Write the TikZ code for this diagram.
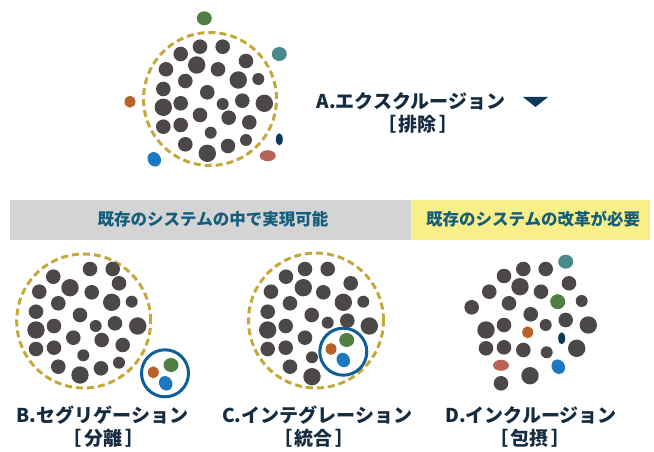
\documentclass[tikz,border=0pt]{standalone}
\usepackage{fontspec}
\newfontfamily\jp{Noto Sans CJK JP}
\definecolor{dotgray}{HTML}{4D4848}
\definecolor{gold}{HTML}{C4A83C}
\definecolor{ringblue}{HTML}{0E5F98}
\definecolor{cgreen}{HTML}{4F8042}
\definecolor{cteal}{HTML}{4A8A8A}
\definecolor{corange}{HTML}{B8622A}
\definecolor{cblue}{HTML}{1B78C2}
\definecolor{cnavy}{HTML}{0D3A5A}
\definecolor{csalmon}{HTML}{B86458}
\definecolor{bandgray}{HTML}{D4D4D4}
\definecolor{bandyellow}{HTML}{F9EF88}
\definecolor{bandtext}{HTML}{145E7C}
\definecolor{labeltext}{HTML}{152B40}
\newcommand{\brk}[1]{［\hspace{3pt}#1\hspace{3pt}］}
\begin{document}
\begin{tikzpicture}[x=1pt,y=-1pt,
  dashring/.style={draw=gold,line width=3pt,dash pattern=on 7pt off 4pt},
  ring/.style={draw=ringblue,line width=3pt},
  lbl/.style={font=\jp\bfseries\fontsize{19}{21}\selectfont,text=labeltext,inner sep=0pt},
  bandlbl/.style={font=\jp\bfseries\fontsize{16.5}{18}\selectfont,text=bandtext,inner sep=0pt}]
\useasboundingbox (0,0) rectangle (654,452);

% ---------- A: exclusion ----------
\draw[dashring] (210,99) circle (66.5pt);
\foreach \x/\y/\r in {200/46.7/7.3, 222.7/46.7/7.3, 180.7/54/7.3, 196.7/65/8.7, 246/61/7.3,
  166/69.3/7.3, 218/69.3/7.3, 185.3/81/7.3, 238.3/80/8.7, 258.3/79/6,
  163.3/89/7.3, 207.3/92.3/7.3, 242.3/100.7/7.3, 264.3/103.3/8.7, 222.7/104/6,
  180.7/103.3/7.3, 163.3/107.3/8.7, 200/115/7.3, 228.7/117.7/7.3, 249.3/122.3/7.3,
  163.3/126.7/7.3, 180.7/125/7.3, 210.7/132.7/6, 246/140/6, 185.3/144.3/7.3,
  207.3/153.3/8.7, 228/146/7.3}
  \fill[dotgray] (\x,\y) circle (\r pt);
\fill[cgreen] (204.3,18.3) ellipse [x radius=7.5pt,y radius=7pt];
\fill[cteal] (279.3,54) ellipse [x radius=7.5pt,y radius=7pt];
\fill[corange] (130,101.7) ellipse [x radius=5.5pt,y radius=6pt];
\fill[cblue,rotate around={30:(154.3,159.3)}] (154.3,159.3) ellipse [x radius=6.5pt,y radius=7.5pt];
\fill[cnavy] (279.3,139.3) ellipse [x radius=3.5pt,y radius=6pt];
\fill[csalmon] (267.7,155.7) ellipse [x radius=8pt,y radius=5.5pt];

\node[lbl] (la1) at (411,101) {A.エクスクルージョン};
\node[lbl] (la2) at (418,124) {\brk{排除}};
\fill[cnavy] (523,97) -- (548,97) -- (535.5,107) -- cycle;

% ---------- band ----------
\fill[bandgray] (10,200) rectangle (411,240);
\fill[bandyellow] (411,200) rectangle (650,240);
\node[bandlbl] (band1) at (213,219) {既存のシステムの中で実現可能};
\node[bandlbl] (band2) at (533,219) {既存のシステムの改革が必要};

% ---------- B: segregation ----------
\draw[dashring] (83.7,321) circle (67pt);
\foreach \x/\y/\r in {90/269/7.3, 112.7/269/7.3, 53.3/276.7/7.3, 119/283.3/7.3, 70/287.7/8.7,
  39.3/291.7/7.3, 91.7/292.3/7.3, 58.3/303.3/7.3, 111.7/302.3/8.7, 131.7/301.7/6,
  36/311.7/7.3, 80/315/7.3, 54/326/7.3, 95.7/326/6, 115/323.3/7.3,
  137.7/326/8.7, 36/330/8.7, 73.3/337.7/7.3, 101.7/340/7.3, 122.7/345/7.3,
  36/349/7.3, 54/347.7/7.3, 83.3/355.3/6, 119/362.7/6, 58.3/366.7/7.3,
  101/368.3/7.3, 80/375/8.7}
  \fill[dotgray] (\x,\y) circle (\r pt);
\fill[white] (165,373.3) circle (23.5pt);
\draw[ring] (165,373.3) circle (23.5pt);
\fill[corange] (153.3,372.3) ellipse [x radius=5.5pt,y radius=6pt];
\fill[cgreen] (171,365) ellipse [x radius=7.5pt,y radius=7pt];
\fill[cblue,rotate around={30:(165.7,383.3)}] (165.7,383.3) ellipse [x radius=6.5pt,y radius=7.5pt];
\node[lbl] (lb1) at (102.5,415) {B.セグリゲーション};
\node[lbl] (lb2) at (103.5,438) {\brk{分離}};

% ---------- C: integration ----------
\draw[dashring] (316,320.5) circle (67.5pt);
\foreach \x/\y/\r in {305/269/7.3, 327.7/269/7.3, 286/276.7/7.3, 350.7/283.3/7.3, 303.3/287.7/8.7,
  271/291.7/7.3, 323.3/292.3/7.3, 290/303.3/7.3, 343.3/302.3/8.7, 363.3/301.7/6,
  267.7/311.7/7.3, 311.7/315/7.3, 285.7/326/7.3, 327.7/322.7/6, 347.3/320.7/7.3,
  369.3/326/8.7, 267.7/330/8.7, 305/337.7/7.3, 267.7/349/7.3, 285.7/347.7/7.3,
  312/357.3/6, 290/366.7/7.3, 312/376.7/8.7}
  \fill[dotgray] (\x,\y) circle (\r pt);
\fill[white] (343.3,351.7) circle (23.5pt);
\draw[ring] (343.3,351.7) circle (23.5pt);
\fill[corange] (331,349) ellipse [x radius=5.5pt,y radius=6pt];
\fill[cgreen] (346.7,340) ellipse [x radius=7.5pt,y radius=7pt];
\fill[cblue,rotate around={30:(343.3,360)}] (343.3,360) ellipse [x radius=6.5pt,y radius=7.5pt];
\node[lbl] (lc1) at (317,415) {C.インテグレーション};
\node[lbl] (lc2) at (314,438) {\brk{統合}};

% ---------- D: inclusion ----------
\foreach \x/\y/\r in {523.3/269/7.3, 545.7/269/7.3, 504/276/7.3, 569/283.3/7.3, 520/286.7/8.7,
  489.3/291.7/7.3, 541/291.7/7.3, 581.7/301/6, 471.7/307.3/7.3, 509/303.3/7.3,
  530.7/314.3/7.3, 565.7/320/7.3, 588.3/325/8.7, 545.7/325/6, 504/325/7.3,
  486/330/8.7, 486/348.3/7.3, 504/347.3/7.3, 523.3/350/7.3, 546.7/352.3/6,
  576.7/348.3/8.7, 530/375.7/8.7, 501/383.3/7.3}
  \fill[dotgray] (\x,\y) circle (\r pt);
\fill[cteal] (565.7,261.7) ellipse [x radius=7.5pt,y radius=7pt];
\fill[cgreen] (557.7,301.7) ellipse [x radius=7.5pt,y radius=7.5pt];
\fill[corange] (527.7,332.3) ellipse [x radius=5.5pt,y radius=6pt];
\fill[cnavy] (561.7,338.3) ellipse [x radius=3.5pt,y radius=6pt];
\fill[csalmon] (501,365.3) ellipse [x radius=8pt,y radius=5.5pt];
\fill[cblue,rotate around={30:(558.3,366.7)}] (558.3,366.7) ellipse [x radius=6.5pt,y radius=7.5pt];
\node[lbl] (ld1) at (531,415) {D.インクルージョン};
\node[lbl] (ld2) at (530,438) {\brk{包摂}};
\end{tikzpicture}
\end{document}
